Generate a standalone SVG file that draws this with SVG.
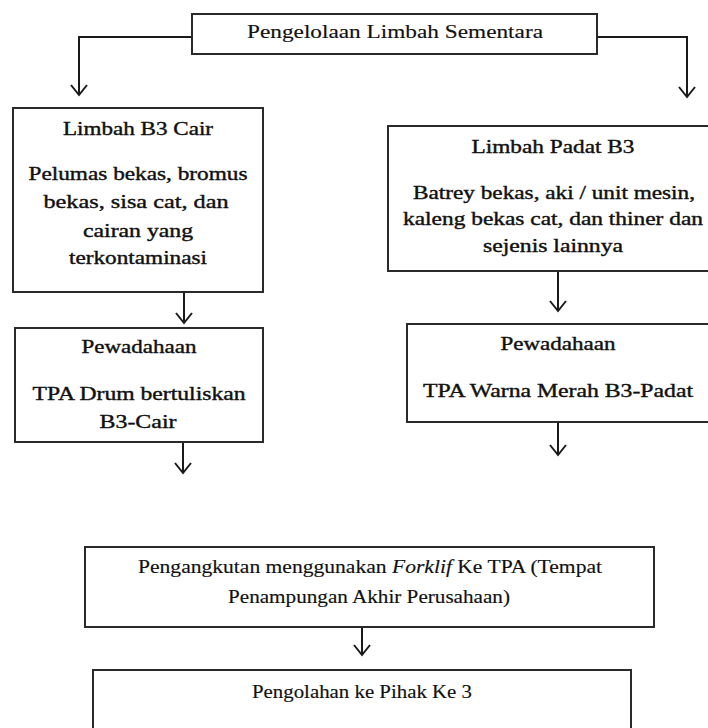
<svg xmlns="http://www.w3.org/2000/svg" width="708" height="728" viewBox="0 0 708 728">
<defs>
<style>
.box{fill:#fff;stroke:#2a2a2a;stroke-width:2}
.ln{fill:none;stroke:#1a1a1a;stroke-width:2}
.t{font-family:'Liberation Serif','Times New Roman',serif;font-size:19px;fill:#111;text-anchor:middle;stroke:#111;stroke-width:0.15}
.b{stroke-width:0.4}
</style>
<marker id="ah" viewBox="0 0 20 20" refX="18" refY="10" markerWidth="20" markerHeight="20" markerUnits="userSpaceOnUse" orient="auto">
<path d="M8,2 L18,10 L8,18" fill="none" stroke="#1a1a1a" stroke-width="2"/>
</marker>
</defs>
<rect width="708" height="728" fill="#fff"/>
<g id="connectors">
<path class="ln" d="M192,37 H79 V95" marker-end="url(#ah)"/>
<path class="ln" d="M597,37 H687 V97" marker-end="url(#ah)"/>
<path class="ln" d="M184,292 V323" marker-end="url(#ah)"/>
<path class="ln" d="M183,442 V473" marker-end="url(#ah)"/>
<path class="ln" d="M558,271 V311" marker-end="url(#ah)"/>
<path class="ln" d="M558,422 V455" marker-end="url(#ah)"/>
<path class="ln" d="M362,627 V655" marker-end="url(#ah)"/>
</g>
<g id="node-top">
<rect class="box" x="192" y="14" width="405" height="40"/>
<text x="395" y="38" class="t" textLength="296" lengthAdjust="spacingAndGlyphs">Pengelolaan Limbah Sementara</text>
</g>
<g id="node-cair">
<rect class="box" x="13" y="108" width="250" height="184"/>
<text x="138" y="135" class="t b" textLength="150" lengthAdjust="spacingAndGlyphs">Limbah B3 Cair</text>
<text x="138" y="180" class="t b" textLength="219" lengthAdjust="spacingAndGlyphs">Pelumas bekas, bromus</text>
<text x="136" y="208" class="t b" textLength="185" lengthAdjust="spacingAndGlyphs">bekas, sisa cat, dan</text>
<text x="138" y="237" class="t b" textLength="110" lengthAdjust="spacingAndGlyphs">cairan yang</text>
<text x="138" y="264" class="t b" textLength="138" lengthAdjust="spacingAndGlyphs">terkontaminasi</text>
</g>
<g id="node-padat">
<rect class="box" x="388" y="126" width="330" height="145"/>
<text x="553" y="153" class="t b" textLength="163" lengthAdjust="spacingAndGlyphs">Limbah Padat B3</text>
<text x="554" y="199" class="t b" textLength="282" lengthAdjust="spacingAndGlyphs">Batrey bekas, aki / unit mesin,</text>
<text x="553" y="225" class="t b" textLength="300" lengthAdjust="spacingAndGlyphs">kaleng bekas cat, dan thiner dan</text>
<text x="553" y="252" class="t b" textLength="140" lengthAdjust="spacingAndGlyphs">sejenis lainnya</text>
</g>
<g id="node-wadah-cair">
<rect class="box" x="15" y="328" width="248" height="114"/>
<text x="139" y="353" class="t b" textLength="115" lengthAdjust="spacingAndGlyphs">Pewadahaan</text>
<text x="139" y="400" class="t b" textLength="213" lengthAdjust="spacingAndGlyphs">TPA Drum bertuliskan</text>
<text x="138" y="428" class="t b" textLength="77" lengthAdjust="spacingAndGlyphs">B3-Cair</text>
</g>
<g id="node-wadah-padat">
<rect class="box" x="407" y="324" width="311" height="98"/>
<text x="558" y="350" class="t b" textLength="115" lengthAdjust="spacingAndGlyphs">Pewadahaan</text>
<text x="558" y="397" class="t b" textLength="270" lengthAdjust="spacingAndGlyphs">TPA Warna Merah B3-Padat</text>
</g>
<g id="node-angkut">
<rect class="box" x="85" y="547" width="569" height="80"/>
<text x="370" y="573" class="t" textLength="464" lengthAdjust="spacingAndGlyphs">Pengangkutan menggunakan <tspan font-style="italic">Forklif</tspan>  Ke TPA (Tempat</text>
<text x="369" y="603" class="t" textLength="282" lengthAdjust="spacingAndGlyphs">Penampungan Akhir Perusahaan)</text>
</g>
<g id="node-olah">
<rect class="box" x="93" y="670" width="538" height="70"/>
<text x="362" y="698" class="t" textLength="220" lengthAdjust="spacingAndGlyphs">Pengolahan ke Pihak Ke 3</text>
</g>
</svg>
